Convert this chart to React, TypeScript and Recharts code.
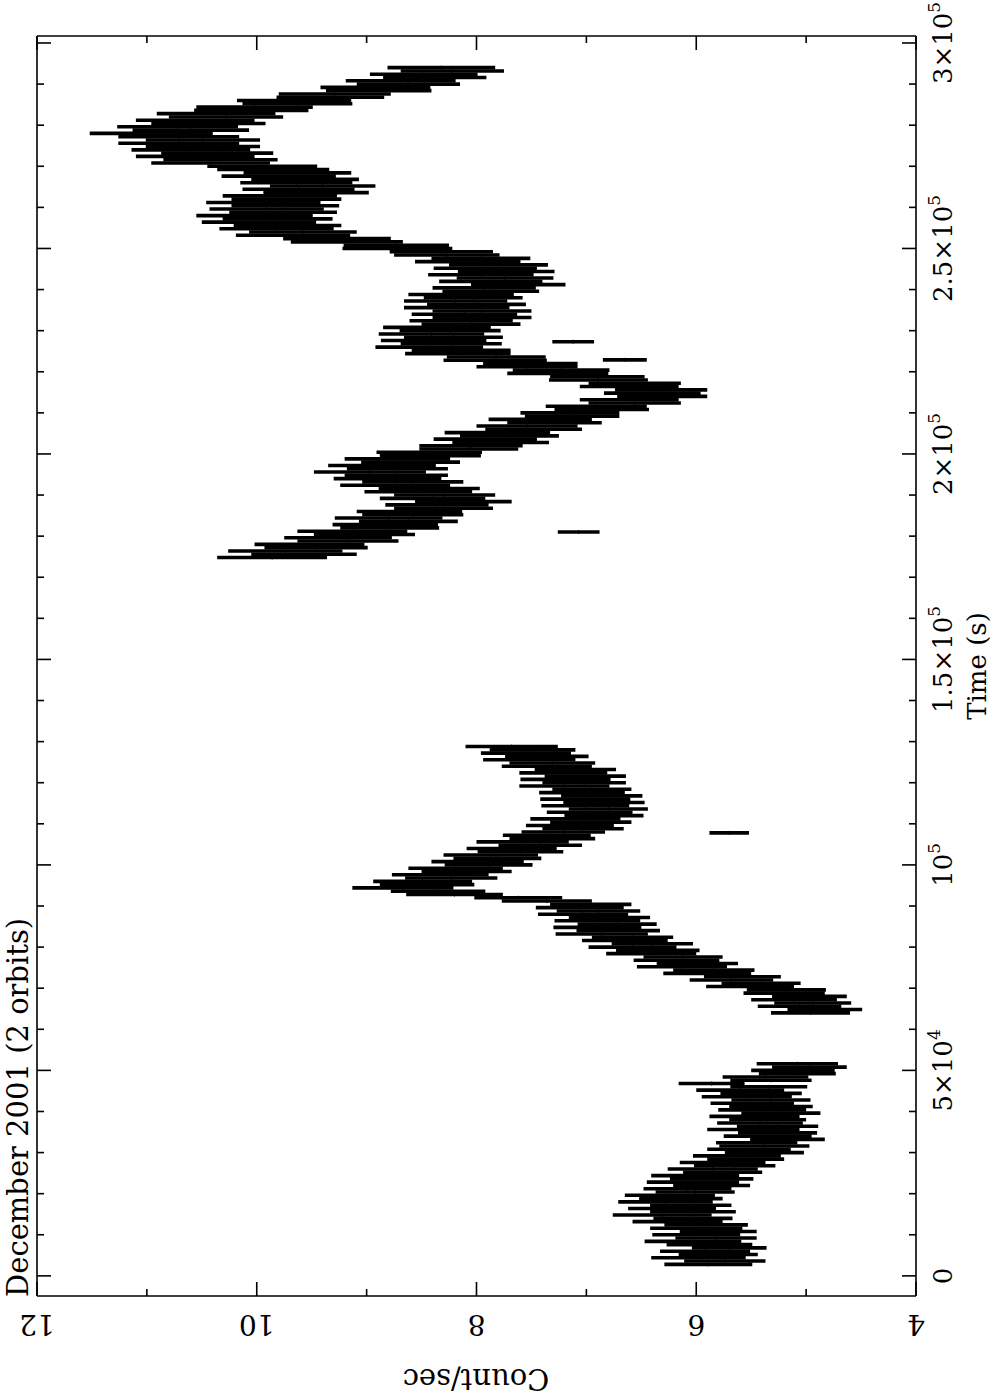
import { ScatterChart, Scatter, XAxis, YAxis, ErrorBar, Label } from 'recharts';

// [time (ks), count rate (counts/s), 1-sigma error]
type Row = [number, number, number];

const orbit1a: Row[] = [
  [2.8, 5.89, 0.4], [3.6, 5.74, 0.37], [4.4, 5.98, 0.43], [5.2, 5.8, 0.36], [6.0, 5.92, 0.41],
  [6.8, 5.7, 0.34], [7.6, 5.88, 0.39], [8.4, 6.03, 0.44], [9.2, 5.82, 0.37], [10.0, 6.0, 0.4],
  [10.8, 5.8, 0.35], [11.6, 6.0, 0.42], [12.4, 5.91, 0.38], [13.2, 6.17, 0.41], [14.0, 6.03, 0.36],
  [14.8, 6.31, 0.45], [15.6, 6.03, 0.39], [16.4, 6.22, 0.4], [17.2, 6.05, 0.37], [18.0, 6.28, 0.43],
  [18.8, 6.14, 0.38], [19.6, 6.24, 0.41], [20.4, 6.01, 0.36], [21.2, 6.08, 0.4], [22.0, 5.86, 0.35],
  [22.8, 6.03, 0.42], [23.6, 5.86, 0.38], [24.4, 6.01, 0.4], [25.2, 5.76, 0.36], [26.0, 5.85, 0.41],
  [26.8, 5.65, 0.37], [27.6, 5.76, 0.39], [28.4, 5.55, 0.35], [29.2, 5.63, 0.4], [30.0, 5.38, 0.36],
  [30.8, 5.52, 0.38], [31.6, 5.38, 0.41], [32.4, 5.45, 0.37], [33.2, 5.17, 0.34], [34.0, 5.35, 0.4],
  [34.8, 5.26, 0.36], [35.6, 5.48, 0.42], [36.4, 5.26, 0.37], [37.2, 5.42, 0.39], [38.0, 5.35, 0.35],
  [38.8, 5.47, 0.41], [39.6, 5.23, 0.36], [40.4, 5.4, 0.4], [41.2, 5.32, 0.38], [42.0, 5.49, 0.38],
  [42.8, 5.32, 0.36], [43.6, 5.54, 0.41], [44.4, 5.41, 0.37], [45.2, 5.6, 0.4], [46.0, 5.34, 0.35],
  [46.8, 5.86, 0.3], [47.6, 5.32, 0.37], [48.4, 5.37, 0.39], [49.2, 5.08, 0.35], [50.0, 5.12, 0.38],
  [50.8, 4.97, 0.34], [51.6, 5.08, 0.37],
];

const orbit1b: Row[] = [
  [64.0, 4.96, 0.36], [64.8, 4.83, 0.34], [65.6, 5.06, 0.38], [66.4, 4.94, 0.35], [67.2, 5.11, 0.39],
  [68.0, 4.97, 0.34], [68.8, 5.2, 0.37], [69.6, 5.18, 0.36], [70.4, 5.51, 0.4], [71.2, 5.41, 0.36],
  [72.0, 5.68, 0.38], [72.8, 5.58, 0.35], [73.6, 5.9, 0.4], [74.4, 5.84, 0.37], [75.2, 6.13, 0.41],
  [76.0, 5.99, 0.37], [76.8, 6.18, 0.39], [77.6, 6.12, 0.36], [78.4, 6.41, 0.41], [79.2, 6.35, 0.38],
  [80.0, 6.58, 0.4], [80.8, 6.4, 0.37], [81.6, 6.65, 0.39], [82.4, 6.58, 0.37], [83.2, 6.86, 0.42],
  [84.0, 6.71, 0.38], [84.8, 6.9, 0.4], [85.6, 6.72, 0.36], [86.4, 6.9, 0.39], [87.2, 6.79, 0.37],
  [88.0, 7.03, 0.41], [88.8, 6.89, 0.38], [89.6, 7.06, 0.4], [90.4, 6.96, 0.37], [91.2, 7.36, 0.41],
  [92.0, 7.62, 0.4], [92.8, 8.2, 0.44], [93.6, 8.35, 0.43], [94.4, 8.67, 0.46], [95.2, 8.45, 0.43],
  [96.0, 8.49, 0.45], [96.8, 8.23, 0.42], [97.6, 8.33, 0.44], [98.4, 8.09, 0.41], [99.2, 8.19, 0.43],
  [100.0, 7.89, 0.4], [100.8, 7.99, 0.42], [101.6, 7.81, 0.4], [102.4, 7.87, 0.43], [103.2, 7.6, 0.39],
  [104.0, 7.68, 0.41], [104.8, 7.42, 0.38], [105.6, 7.58, 0.42], [106.4, 7.31, 0.39], [107.2, 7.36, 0.4],
  [108.0, 7.21, 0.38], [108.8, 7.03, 0.37], [109.6, 7.15, 0.4], [110.4, 6.96, 0.37], [111.2, 7.1, 0.41],
  [112.0, 6.84, 0.36], [112.8, 6.97, 0.39], [113.6, 6.8, 0.36], [114.4, 7.01, 0.4], [115.2, 6.84, 0.37],
  [116.0, 7.01, 0.41], [116.8, 6.86, 0.37], [117.6, 7.04, 0.39], [118.4, 6.95, 0.36], [119.2, 7.2, 0.41],
  [120.0, 7.02, 0.38], [120.8, 7.19, 0.41], [121.6, 7.01, 0.37], [122.4, 7.21, 0.4], [123.2, 7.1, 0.37],
  [124.0, 7.36, 0.41], [124.8, 7.31, 0.39], [125.6, 7.52, 0.42], [126.4, 7.36, 0.38], [127.2, 7.55, 0.41],
  [128.0, 7.49, 0.39], [128.8, 7.68, 0.42],
];

const orbit2: Row[] = [
  [174.8, 9.86, 0.5], [175.6, 9.57, 0.48], [176.4, 9.74, 0.52], [177.2, 9.46, 0.47], [178.0, 9.52, 0.5],
  [178.8, 9.17, 0.46], [179.6, 9.26, 0.49], [180.4, 9.02, 0.46], [181.2, 9.13, 0.5], [182.0, 8.79, 0.45],
  [182.8, 8.83, 0.48], [183.6, 8.62, 0.45], [184.4, 8.8, 0.49], [185.2, 8.58, 0.46], [186.0, 8.61, 0.48],
  [186.8, 8.3, 0.45], [187.6, 8.36, 0.47], [188.4, 8.12, 0.44], [189.2, 8.4, 0.48], [190.0, 8.29, 0.46],
  [190.8, 8.53, 0.49], [191.6, 8.43, 0.46], [192.4, 8.74, 0.5], [193.2, 8.58, 0.46], [194.0, 8.81, 0.49],
  [194.8, 8.73, 0.47], [195.6, 8.97, 0.51], [196.4, 8.72, 0.46], [197.2, 8.86, 0.49], [198.0, 8.6, 0.45],
  [198.8, 8.72, 0.48], [199.6, 8.42, 0.46], [200.4, 8.43, 0.48], [201.2, 8.07, 0.45], [202.0, 8.05, 0.47],
  [202.8, 7.78, 0.44], [203.6, 7.92, 0.47], [204.4, 7.7, 0.45], [205.2, 7.81, 0.48], [206.0, 7.48, 0.44],
  [206.8, 7.54, 0.46], [207.6, 7.29, 0.43], [208.4, 7.42, 0.47], [209.2, 7.13, 0.43], [210.0, 7.15, 0.45],
  [210.8, 6.86, 0.43], [211.6, 6.91, 0.46], [212.4, 6.56, 0.42], [213.2, 6.61, 0.45], [214.0, 6.31, 0.41],
  [214.8, 6.4, 0.44], [215.6, 6.32, 0.42], [216.4, 6.61, 0.45], [217.2, 6.56, 0.42], [218.0, 6.89, 0.45],
  [218.8, 6.9, 0.43], [219.6, 7.26, 0.46], [220.4, 7.23, 0.44], [221.2, 7.54, 0.46], [222.0, 7.51, 0.43],
  [222.8, 7.83, 0.47], [223.6, 7.82, 0.45], [224.4, 8.17, 0.48], [225.2, 8.14, 0.45], [226.0, 8.43, 0.49],
  [226.8, 8.23, 0.46], [227.6, 8.39, 0.48], [228.4, 8.21, 0.45], [229.2, 8.41, 0.48], [230.0, 8.24, 0.46],
  [230.8, 8.36, 0.49], [231.6, 8.05, 0.45], [232.4, 8.14, 0.47], [233.2, 7.95, 0.45], [234.0, 8.11, 0.48],
  [234.8, 7.95, 0.45], [235.6, 8.18, 0.48], [236.4, 8.0, 0.45], [237.2, 8.19, 0.47], [238.0, 8.03, 0.45],
  [238.8, 8.14, 0.48], [239.6, 7.87, 0.44], [240.4, 7.93, 0.47], [241.2, 7.62, 0.43], [242.0, 7.87, 0.47],
  [242.8, 7.74, 0.44], [243.6, 7.96, 0.48], [244.4, 7.73, 0.44], [245.2, 7.92, 0.47], [246.0, 7.8, 0.45],
  [246.8, 8.08, 0.48], [247.6, 7.96, 0.45], [248.4, 8.27, 0.48], [249.2, 8.32, 0.47], [250.0, 8.72, 0.5],
  [250.8, 8.73, 0.48], [251.6, 9.18, 0.51], [252.4, 9.27, 0.49], [253.2, 9.67, 0.52], [254.0, 9.58, 0.49],
  [254.8, 9.82, 0.52], [255.6, 9.72, 0.49], [256.4, 9.98, 0.52], [257.2, 9.81, 0.5], [258.0, 10.02, 0.53],
  [258.8, 9.76, 0.49], [259.6, 9.91, 0.52], [260.4, 9.74, 0.49], [261.2, 9.94, 0.52], [262.0, 9.73, 0.5],
  [262.8, 9.79, 0.52], [263.6, 9.46, 0.48], [264.4, 9.62, 0.51], [265.2, 9.4, 0.48], [266.0, 9.64, 0.51],
  [266.8, 9.56, 0.49], [267.6, 9.8, 0.52], [268.4, 9.63, 0.49], [269.2, 9.85, 0.51], [270.0, 9.95, 0.5],
  [270.8, 10.42, 0.54], [271.6, 10.33, 0.52], [272.4, 10.56, 0.54], [273.2, 10.36, 0.51], [274.0, 10.6, 0.54],
  [274.8, 10.49, 0.52], [275.6, 10.71, 0.55], [276.4, 10.49, 0.52], [277.2, 10.71, 0.55], [278.0, 10.96, 0.56],
  [278.8, 10.6, 0.53], [279.6, 10.72, 0.55], [280.4, 10.44, 0.52], [281.2, 10.56, 0.54], [282.0, 10.28, 0.52],
  [282.8, 10.37, 0.54], [283.6, 10.05, 0.52], [284.4, 10.02, 0.53], [285.2, 9.63, 0.5], [286.0, 9.66, 0.52],
  [286.8, 9.33, 0.49], [287.6, 9.29, 0.51], [288.4, 8.89, 0.48], [289.2, 8.92, 0.5], [290.0, 8.62, 0.47],
  [290.8, 8.69, 0.5], [291.6, 8.38, 0.47], [292.4, 8.48, 0.49], [293.2, 8.22, 0.47], [294.0, 8.32, 0.49],
];

// isolated long-bin points
const strays: Row[] = [
  [107.8, 5.7, 0.18], [181.0, 7.07, 0.19], [222.9, 6.65, 0.2], [227.3, 7.12, 0.19],
];

const countTicks = [4, 5, 6, 7, 8, 9, 10, 11, 12];
const countLabels = [4, 6, 8, 10, 12];
const timeTicks = [
  0, 10000, 20000, 30000, 40000, 50000, 60000, 70000, 80000, 90000, 100000,
  110000, 120000, 130000, 140000, 150000, 160000, 170000, 180000, 190000, 200000,
  210000, 220000, 230000, 240000, 250000, 260000, 270000, 280000, 290000, 300000,
];
// [value, mantissa text, exponent]
const timeLabels: [number, string, string][] = [
  [0, '0', ''],
  [50000, '5×10', '4'],
  [100000, '10', '5'],
  [150000, '1.5×10', '5'],
  [200000, '2×10', '5'],
  [250000, '2.5×10', '5'],
  [300000, '3×10', '5'],
];

const title = 'December 2001 (2 orbits)';
const xTitle = 'Count/sec';
const yTitle = 'Time (s)';

const points = [...orbit1a, ...orbit1b, ...orbit2, ...strays].map(([t, rate, err]) => ({
  t: t * 1000,
  rate,
  err,
}));

const FONT = 'DejaVu Serif';
const INK = '#000';

function CountTick(props: any) {
  const { x, y, payload, side } = props;
  const major = countLabels.includes(payload.value);
  const len = major ? 14 : 7;
  const dir = side === 'bottom' ? -1 : 1;
  const ty = y + 19;
  return (
    <g>
      <line x1={x} x2={x} y1={y} y2={y + dir * len} stroke={INK} strokeWidth={1.6} />
      {side === 'bottom' && major && (
        <text
          x={x}
          y={ty}
          transform={`rotate(180 ${x} ${ty})`}
          textAnchor="middle"
          fontFamily={FONT}
          fontSize={28}
          fill={INK}
        >
          {payload.value}
        </text>
      )}
    </g>
  );
}

function TimeTick(props: any) {
  const { x, y, payload, side } = props;
  const lab = timeLabels.find((l) => l[0] === payload.value);
  const len = lab ? 14 : 7;
  const dir = side === 'left' ? 1 : -1;
  const bx = x + 36;
  return (
    <g>
      <line x1={x} x2={x + dir * len} y1={y} y2={y} stroke={INK} strokeWidth={1.6} />
      {side === 'right' && lab && (
        <text
          x={bx}
          y={y}
          transform={`rotate(-90 ${bx} ${y})`}
          textAnchor="middle"
          fontFamily={FONT}
          fontSize={26}
          fill={INK}
        >
          {lab[1]}
          {lab[2] && (
            <tspan dy={-12} fontSize={17}>
              {lab[2]}
            </tspan>
          )}
        </text>
      )}
    </g>
  );
}

export default function App() {
  return (
    <div style={{ position: 'absolute', left: 0, top: 0, background: '#fff' }}>
      <ScatterChart width={995} height={1398} margin={{ top: 35, right: 78, bottom: 101, left: 36 }}>
        <XAxis
          xAxisId="b"
          type="number"
          dataKey="rate"
          domain={[4, 12]}
          reversed
          ticks={countTicks}
          interval={0}
          height={1}
          tickSize={0}
          tickMargin={0}
          tickLine={false}
          axisLine={{ stroke: INK, strokeWidth: 1.6 }}
          tick={(p: any) => <CountTick {...p} side="bottom" />}
        >
          <Label
            content={() => (
              <text
                x={476}
                y={1369}
                transform="rotate(180 476 1369)"
                textAnchor="middle"
                fontFamily={FONT}
                fontSize={29}
                fill={INK}
              >
                {xTitle}
              </text>
            )}
          />
        </XAxis>
        <XAxis
          xAxisId="t"
          orientation="top"
          type="number"
          dataKey="rate"
          domain={[4, 12]}
          reversed
          ticks={countTicks}
          interval={0}
          height={1}
          tickSize={0}
          tickMargin={0}
          tickLine={false}
          axisLine={{ stroke: INK, strokeWidth: 1.6 }}
          tick={(p: any) => <CountTick {...p} side="top" />}
        />
        <YAxis
          yAxisId="r"
          orientation="right"
          type="number"
          dataKey="t"
          domain={[-4900, 301700]}
          ticks={timeTicks}
          interval={0}
          width={1}
          tickSize={0}
          tickMargin={0}
          tickLine={false}
          axisLine={{ stroke: INK, strokeWidth: 1.6 }}
          tick={(p: any) => <TimeTick {...p} side="right" />}
        >
          <Label
            content={() => (
              <text
                x={986}
                y={666}
                transform="rotate(-90 986 666)"
                textAnchor="middle"
                fontFamily={FONT}
                fontSize={26}
                fill={INK}
              >
                {yTitle}
              </text>
            )}
          />
        </YAxis>
        <YAxis
          yAxisId="l"
          orientation="left"
          type="number"
          dataKey="t"
          domain={[-4900, 301700]}
          ticks={timeTicks}
          interval={0}
          width={1}
          tickSize={0}
          tickMargin={0}
          tickLine={false}
          axisLine={{ stroke: INK, strokeWidth: 1.6 }}
          tick={(p: any) => <TimeTick {...p} side="left" />}
        >
          <Label
            content={() => (
              <text
                x={28}
                y={1297}
                transform="rotate(-90 28 1297)"
                textAnchor="start"
                fontFamily={FONT}
                fontSize={29}
                fill={INK}
              >
                {title}
              </text>
            )}
          />
        </YAxis>
        <Scatter
          data={points}
          xAxisId="t"
          yAxisId="l"
          isAnimationActive={false}
          shape={() => <g />}
        />
        <Scatter
          data={points}
          xAxisId="b"
          yAxisId="r"
          isAnimationActive={false}
          shape={(p: any) => (
            <line x1={p.cx} x2={p.cx} y1={p.cy - 2} y2={p.cy + 2} stroke={INK} strokeWidth={1} />
          )}
        >
          <ErrorBar dataKey="err" direction="x" width={0} stroke={INK} strokeWidth={3.6} isAnimationActive={false} />
        </Scatter>
      </ScatterChart>
    </div>
  );
}
